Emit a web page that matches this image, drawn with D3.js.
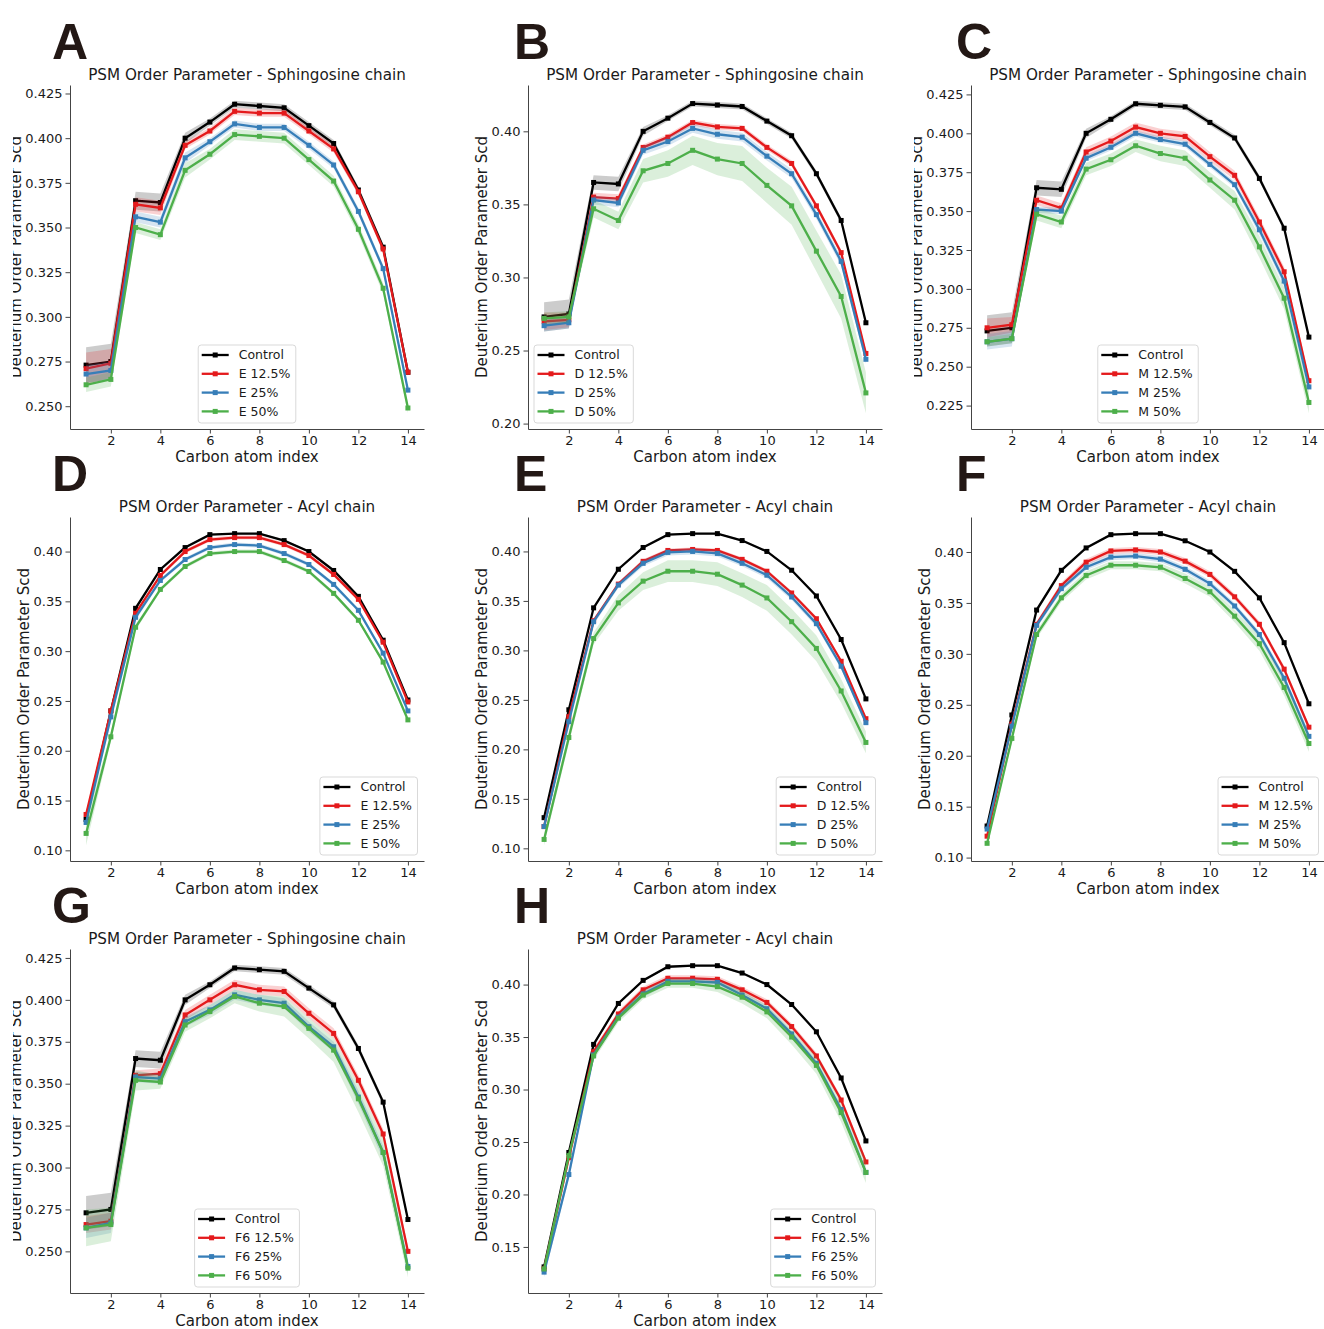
<!DOCTYPE html>
<html>
<head>
<meta charset="utf-8">
<script src="https://cdn.jsdelivr.net/npm/d3@7"></script>
<style>
body { margin: 0; background: #fff; }
text { font-family: "DejaVu Sans", sans-serif; fill: #1a1a1a; }
.letter { font-family: "Liberation Sans", Arial, sans-serif; font-weight: bold; fill: #231815; }
</style>
</head>
<body>
<svg id="fig" width="1324" height="1329"></svg>
<script>
'use strict';

// carbon atom index (x categories)
var carbons = [1, 2, 3, 4, 5, 6, 7, 8, 9, 10, 11, 12, 13, 14];
var xTicks = [2, 4, 6, 8, 10, 12, 14];

// sphingosine chain
var sphControl     = [0.273, 0.275, 0.365, 0.364, 0.400, 0.409, 0.419, 0.418, 0.417, 0.407, 0.397, 0.371, 0.339, 0.269];
var sphControlBand = [0.010, 0.010, 0.005, 0.005, 0.003, 0.002, 0.002, 0.002, 0.002, 0.002, 0.002, 0.002, 0.002, 0.002];

var sphE12     = [0.271, 0.274, 0.363, 0.361, 0.396, 0.404, 0.415, 0.414, 0.414, 0.404, 0.394, 0.370, 0.338, 0.269];
var sphE12Band = [0.009, 0.008, 0.004, 0.004, 0.002, 0.002, 0.002, 0.002, 0.002, 0.002, 0.002, 0.002, 0.002, 0.002];
var sphE25     = [0.268, 0.270, 0.356, 0.353, 0.389, 0.398, 0.408, 0.406, 0.406, 0.396, 0.385, 0.359, 0.327, 0.259];
var sphE25Band = [0.005, 0.005, 0.003, 0.003, 0.003, 0.002, 0.002, 0.002, 0.002, 0.002, 0.002, 0.002, 0.002, 0.002];
var sphE50     = [0.262, 0.265, 0.350, 0.346, 0.382, 0.391, 0.402, 0.401, 0.400, 0.388, 0.376, 0.349, 0.316, 0.249];
var sphE50Band = [0.004, 0.004, 0.003, 0.003, 0.004, 0.003, 0.003, 0.003, 0.003, 0.003, 0.003, 0.003, 0.003, 0.003];

var sphD12     = [0.270, 0.271, 0.355, 0.354, 0.389, 0.396, 0.406, 0.403, 0.402, 0.389, 0.378, 0.349, 0.317, 0.248];
var sphD12Band = [0.006, 0.005, 0.003, 0.003, 0.002, 0.002, 0.002, 0.002, 0.002, 0.002, 0.002, 0.002, 0.002, 0.002];
var sphD25     = [0.267, 0.269, 0.353, 0.351, 0.387, 0.393, 0.402, 0.398, 0.396, 0.383, 0.371, 0.343, 0.311, 0.244];
var sphD25Band = [0.004, 0.004, 0.003, 0.003, 0.003, 0.003, 0.003, 0.003, 0.003, 0.003, 0.003, 0.003, 0.003, 0.003];
var sphD50     = [0.272, 0.273, 0.347, 0.339, 0.373, 0.378, 0.387, 0.381, 0.378, 0.363, 0.349, 0.318, 0.287, 0.221];
var sphD50Band = [0.004, 0.004, 0.006, 0.006, 0.008, 0.009, 0.010, 0.011, 0.012, 0.012, 0.013, 0.014, 0.015, 0.014];

var sphM12     = [0.275, 0.277, 0.357, 0.352, 0.388, 0.395, 0.404, 0.400, 0.398, 0.385, 0.373, 0.343, 0.311, 0.241];
var sphM12Band = [0.006, 0.005, 0.003, 0.003, 0.003, 0.003, 0.003, 0.003, 0.003, 0.003, 0.003, 0.003, 0.003, 0.003];
var sphM25     = [0.266, 0.268, 0.351, 0.350, 0.384, 0.391, 0.400, 0.396, 0.393, 0.380, 0.367, 0.338, 0.305, 0.237];
var sphM25Band = [0.005, 0.005, 0.002, 0.002, 0.002, 0.002, 0.002, 0.002, 0.002, 0.002, 0.002, 0.003, 0.003, 0.003];
var sphM50     = [0.266, 0.268, 0.348, 0.343, 0.377, 0.383, 0.392, 0.387, 0.384, 0.370, 0.357, 0.327, 0.294, 0.227];
var sphM50Band = [0.003, 0.003, 0.004, 0.004, 0.004, 0.004, 0.004, 0.005, 0.005, 0.005, 0.006, 0.007, 0.007, 0.007];

var sphF12     = [0.266, 0.268, 0.355, 0.356, 0.391, 0.400, 0.409, 0.406, 0.405, 0.392, 0.380, 0.352, 0.320, 0.250];
var sphF12Band = [0.005, 0.005, 0.003, 0.003, 0.003, 0.003, 0.003, 0.003, 0.003, 0.003, 0.003, 0.003, 0.003, 0.003];
var sphF25     = [0.264, 0.267, 0.354, 0.353, 0.387, 0.394, 0.403, 0.400, 0.398, 0.384, 0.372, 0.342, 0.309, 0.241];
var sphF25Band = [0.006, 0.006, 0.003, 0.003, 0.003, 0.003, 0.003, 0.003, 0.003, 0.003, 0.003, 0.004, 0.004, 0.004];
var sphF50     = [0.264, 0.266, 0.352, 0.351, 0.385, 0.393, 0.402, 0.398, 0.396, 0.383, 0.370, 0.341, 0.309, 0.240];
var sphF50Band = [0.011, 0.010, 0.006, 0.004, 0.004, 0.004, 0.004, 0.005, 0.006, 0.006, 0.007, 0.008, 0.008, 0.0055];

// acyl chain
var acylControl     = [0.131, 0.240, 0.343, 0.382, 0.404, 0.417, 0.418, 0.418, 0.411, 0.400, 0.381, 0.355, 0.311, 0.251];
var acylControlBand = [0.002, 0.002, 0.002, 0.001, 0.001, 0.001, 0.001, 0.001, 0.001, 0.001, 0.001, 0.001, 0.001, 0.001];

var acylE12     = [0.136, 0.240, 0.338, 0.376, 0.400, 0.412, 0.414, 0.414, 0.407, 0.396, 0.377, 0.352, 0.309, 0.249];
var acylE12Band = [0.003, 0.003, 0.002, 0.002, 0.002, 0.002, 0.002, 0.002, 0.002, 0.002, 0.002, 0.002, 0.002, 0.002];
var acylE25     = [0.128, 0.234, 0.334, 0.371, 0.392, 0.404, 0.407, 0.406, 0.398, 0.387, 0.367, 0.341, 0.298, 0.240];
var acylE25Band = [0.004, 0.003, 0.003, 0.002, 0.002, 0.002, 0.002, 0.002, 0.002, 0.002, 0.002, 0.002, 0.002, 0.002];
var acylE50     = [0.117, 0.214, 0.324, 0.362, 0.385, 0.398, 0.400, 0.400, 0.391, 0.380, 0.358, 0.331, 0.289, 0.231];
var acylE50Band = [0.012, 0.005, 0.003, 0.002, 0.002, 0.002, 0.002, 0.002, 0.002, 0.002, 0.002, 0.002, 0.002, 0.003];

var acylD12     = [0.122, 0.233, 0.330, 0.367, 0.390, 0.401, 0.402, 0.401, 0.392, 0.380, 0.358, 0.332, 0.289, 0.231];
var acylD12Band = [0.003, 0.003, 0.002, 0.002, 0.002, 0.002, 0.002, 0.002, 0.002, 0.002, 0.002, 0.002, 0.002, 0.002];
var acylD25     = [0.122, 0.228, 0.329, 0.366, 0.388, 0.399, 0.400, 0.398, 0.388, 0.376, 0.354, 0.327, 0.284, 0.227];
var acylD25Band = [0.003, 0.003, 0.003, 0.003, 0.003, 0.003, 0.003, 0.003, 0.003, 0.003, 0.003, 0.003, 0.003, 0.003];
var acylD50     = [0.109, 0.212, 0.312, 0.348, 0.370, 0.380, 0.380, 0.377, 0.366, 0.353, 0.329, 0.302, 0.259, 0.207];
var acylD50Band = [0.006, 0.006, 0.006, 0.008, 0.009, 0.011, 0.011, 0.012, 0.012, 0.013, 0.013, 0.013, 0.012, 0.011];

var acylM12     = [0.121, 0.231, 0.329, 0.367, 0.390, 0.401, 0.402, 0.400, 0.391, 0.378, 0.356, 0.329, 0.285, 0.228];
var acylM12Band = [0.003, 0.003, 0.003, 0.003, 0.003, 0.003, 0.003, 0.003, 0.003, 0.003, 0.003, 0.003, 0.003, 0.003];
var acylM25     = [0.128, 0.229, 0.328, 0.364, 0.385, 0.395, 0.396, 0.393, 0.383, 0.369, 0.347, 0.319, 0.276, 0.219];
var acylM25Band = [0.003, 0.003, 0.003, 0.003, 0.003, 0.003, 0.003, 0.003, 0.003, 0.003, 0.003, 0.003, 0.004, 0.004];
var acylM50     = [0.114, 0.217, 0.319, 0.355, 0.377, 0.387, 0.387, 0.385, 0.374, 0.361, 0.337, 0.310, 0.267, 0.212];
var acylM50Band = [0.002, 0.004, 0.004, 0.004, 0.004, 0.004, 0.004, 0.004, 0.005, 0.005, 0.006, 0.007, 0.008, 0.008];

var acylF12     = [0.129, 0.235, 0.336, 0.372, 0.395, 0.406, 0.406, 0.405, 0.395, 0.383, 0.360, 0.332, 0.290, 0.231];
var acylF12Band = [0.003, 0.003, 0.003, 0.003, 0.003, 0.003, 0.003, 0.003, 0.003, 0.003, 0.003, 0.003, 0.003, 0.003];
var acylF25     = [0.126, 0.219, 0.333, 0.369, 0.391, 0.403, 0.403, 0.402, 0.390, 0.377, 0.353, 0.325, 0.281, 0.221];
var acylF25Band = [0.005, 0.004, 0.003, 0.003, 0.003, 0.003, 0.003, 0.003, 0.003, 0.003, 0.003, 0.003, 0.003, 0.003];
var acylF50     = [0.129, 0.237, 0.332, 0.368, 0.390, 0.401, 0.401, 0.398, 0.388, 0.374, 0.350, 0.323, 0.278, 0.221];
var acylF50Band = [0.003, 0.004, 0.004, 0.004, 0.004, 0.004, 0.004, 0.005, 0.006, 0.006, 0.007, 0.008, 0.009, 0.010];

var titleSph = 'PSM Order Parameter - Sphingosine chain';
var titleAcyl = 'PSM Order Parameter - Acyl chain';
var yLabel = 'Deuterium Order Parameter Scd';
var xLabel = 'Carbon atom index';
var colors = ['#000000', '#e41a1c', '#377eb8', '#4daf4a'];

var panels = [
	{letter: 'A', title: titleSph, names: ['Control', 'E 12.5%', 'E 25%', 'E 50%'],
		vals: [sphControl, sphE12, sphE25, sphE50], bands: [sphControlBand, sphE12Band, sphE25Band, sphE50Band],
		legend: 'lc', step: 0.025, fmt: '.3f', clip: true},
	{letter: 'B', title: titleSph, names: ['Control', 'D 12.5%', 'D 25%', 'D 50%'],
		vals: [sphControl, sphD12, sphD25, sphD50], bands: [sphControlBand, sphD12Band, sphD25Band, sphD50Band],
		legend: 'll', step: 0.05, fmt: '.2f', clip: false},
	{letter: 'C', title: titleSph, names: ['Control', 'M 12.5%', 'M 25%', 'M 50%'],
		vals: [sphControl, sphM12, sphM25, sphM50], bands: [sphControlBand, sphM12Band, sphM25Band, sphM50Band],
		legend: 'lc', step: 0.025, fmt: '.3f', clip: true},
	{letter: 'D', title: titleAcyl, names: ['Control', 'E 12.5%', 'E 25%', 'E 50%'],
		vals: [acylControl, acylE12, acylE25, acylE50], bands: [acylControlBand, acylE12Band, acylE25Band, acylE50Band],
		legend: 'lr', step: 0.05, fmt: '.2f', clip: false},
	{letter: 'E', title: titleAcyl, names: ['Control', 'D 12.5%', 'D 25%', 'D 50%'],
		vals: [acylControl, acylD12, acylD25, acylD50], bands: [acylControlBand, acylD12Band, acylD25Band, acylD50Band],
		legend: 'lr', step: 0.05, fmt: '.2f', clip: false},
	{letter: 'F', title: titleAcyl, names: ['Control', 'M 12.5%', 'M 25%', 'M 50%'],
		vals: [acylControl, acylM12, acylM25, acylM50], bands: [acylControlBand, acylM12Band, acylM25Band, acylM50Band],
		legend: 'lr', step: 0.05, fmt: '.2f', clip: false},
	{letter: 'G', title: titleSph, names: ['Control', 'F6 12.5%', 'F6 25%', 'F6 50%'],
		vals: [sphControl, sphF12, sphF25, sphF50], bands: [sphControlBand, sphF12Band, sphF25Band, sphF50Band],
		legend: 'lc', step: 0.025, fmt: '.3f', clip: true},
	{letter: 'H', title: titleAcyl, names: ['Control', 'F6 12.5%', 'F6 25%', 'F6 50%'],
		vals: [acylControl, acylF12, acylF25, acylF50], bands: [acylControlBand, acylF12Band, acylF25Band, acylF50Band],
		legend: 'lr', step: 0.05, fmt: '.2f', clip: false}
];

var svg = d3.select('#fig');
svg.append('rect').attr('width', 1324).attr('height', 1329).attr('fill', '#fff');

var colLeft = [70, 528, 971];
var rowTop = [85, 517, 949];
var letterX = [52, 514, 956];
var letterY = [58.5, 490.5, 922.5];
var plotW = 354;
var plotH = 344;

var defs = svg.append('defs');

panels.forEach(function (p, idx) {
	var col = idx % 3;
	var row = Math.floor(idx / 3);

	svg.append('text')
		.attr('class', 'letter')
		.attr('x', letterX[col])
		.attr('y', letterY[row])
		.attr('font-size', 50)
		.text(p.letter);

	var g = svg.append('g')
		.attr('transform', 'translate(' + colLeft[col] + ',' + rowTop[row] + ')');

	// matplotlib style 5% margins
	var xe = d3.extent(carbons);
	var xpad = (xe[1] - xe[0]) * 0.05;
	var x = d3.scaleLinear().domain([xe[0] - xpad, xe[1] + xpad]).range([0, plotW]);

	var lo = d3.min(p.vals, function (v, s) {
		return d3.min(v, function (d, i) { return d - p.bands[s][i]; });
	});
	var hi = d3.max(p.vals, function (v, s) {
		return d3.max(v, function (d, i) { return d + p.bands[s][i]; });
	});
	var ypad = (hi - lo) * 0.05;
	var y = d3.scaleLinear().domain([lo - ypad, hi + ypad]).range([plotH, 0]);
	var yd = y.domain();
	var yTicks = d3.range(Math.ceil(yd[0] / p.step - 1e-6), Math.floor(yd[1] / p.step + 1e-6) + 1)
		.map(function (k) { return k * p.step; });

	// bands + lines, one series after another
	p.vals.forEach(function (v, s) {
		var pts = carbons.map(function (c, i) { return {c: c, v: v[i], b: p.bands[s][i]}; });
		var area = d3.area()
			.x(function (d) { return x(d.c); })
			.y0(function (d) { return y(d.v - d.b); })
			.y1(function (d) { return y(d.v + d.b); });
		var line = d3.line()
			.x(function (d) { return x(d.c); })
			.y(function (d) { return y(d.v); });

		g.append('path')
			.datum(pts)
			.attr('d', area)
			.attr('fill', colors[s])
			.attr('fill-opacity', 0.2);

		g.append('path')
			.datum(pts)
			.attr('d', line)
			.attr('fill', 'none')
			.attr('stroke', colors[s])
			.attr('stroke-width', 2.3);

		g.selectAll(null)
			.data(pts)
			.enter()
			.append('rect')
			.attr('x', function (d) { return x(d.c) - 2.5; })
			.attr('y', function (d) { return y(d.v) - 2.5; })
			.attr('width', 5)
			.attr('height', 5)
			.attr('fill', colors[s]);
	});

	// axes
	var xAxis = g.append('g')
		.attr('transform', 'translate(0,' + plotH + ')')
		.call(d3.axisBottom(x).tickValues(xTicks).tickSize(4.5).tickSizeOuter(0).tickPadding(2));
	var yAxis = g.append('g')
		.call(d3.axisLeft(y).tickValues(yTicks).tickFormat(d3.format(p.fmt)).tickSize(4.5).tickSizeOuter(0).tickPadding(3));
	[xAxis, yAxis].forEach(function (a) {
		a.selectAll('path, line').attr('stroke', '#444').attr('stroke-width', 1);
		a.selectAll('text').attr('font-size', 13).attr('font-family', '"DejaVu Sans", sans-serif').attr('fill', '#1a1a1a');
	});

	g.append('text')
		.attr('x', plotW / 2)
		.attr('y', -5.5)
		.attr('text-anchor', 'middle')
		.attr('font-size', 15.2)
		.text(p.title);

	g.append('text')
		.attr('x', plotW / 2)
		.attr('y', plotH + 33)
		.attr('text-anchor', 'middle')
		.attr('font-size', 15)
		.text(xLabel);

	// y label left of widest tick label
	var tickLeft = d3.min(yAxis.selectAll('text').nodes(), function (n) {
		return n.getBBox().x;
	});
	var yl = g.append('g');
	if (p.clip) {
		// the source panels were cropped through the y label
		var cid = 'clip' + p.letter;
		defs.append('clipPath').attr('id', cid)
			.append('rect')
			.attr('x', colLeft[col] - 57)
			.attr('y', 0)
			.attr('width', 200)
			.attr('height', 1329);
		yl = svg.append('g').attr('clip-path', 'url(#' + cid + ')')
			.append('g')
			.attr('transform', 'translate(' + colLeft[col] + ',' + rowTop[row] + ')');
	}
	yl.append('text')
		.attr('transform', 'translate(' + (tickLeft - 4.5) + ',' + (plotH / 2) + ') rotate(-90)')
		.attr('text-anchor', 'middle')
		.attr('font-size', 15)
		.text(yLabel);

	// legend
	var rowGap = 18.8;
	var leg = g.append('g');
	var box = leg.append('rect')
		.attr('rx', 3)
		.attr('fill', '#fff')
		.attr('fill-opacity', 0.8)
		.attr('stroke', '#d9d9d9')
		.attr('stroke-width', 1);
	var maxW = 0;
	p.names.forEach(function (nm, s) {
		var cy = 10 + s * rowGap;
		leg.append('line')
			.attr('x1', 3.5).attr('x2', 30.5)
			.attr('y1', cy).attr('y2', cy)
			.attr('stroke', colors[s])
			.attr('stroke-width', 2.3);
		leg.append('rect')
			.attr('x', 17 - 2.5).attr('y', cy - 2.5)
			.attr('width', 5).attr('height', 5)
			.attr('fill', colors[s]);
		var t = leg.append('text')
			.attr('x', 40.5)
			.attr('y', cy)
			.attr('dy', '0.35em')
			.attr('font-size', 12.5)
			.text(nm);
		maxW = Math.max(maxW, t.node().getComputedTextLength());
	});
	var bw = 40.5 + maxW + 5.5;
	var bh = 78;
	box.attr('width', bw).attr('height', bh);
	var lx;
	if (p.legend === 'lc') {
		lx = plotW / 2 - bw / 2;
	} else if (p.legend === 'll') {
		lx = 6;
	} else {
		lx = plotW - 6.5 - bw;
	}
	leg.attr('transform', 'translate(' + lx + ',' + (plotH - 6 - bh) + ')');
});
</script>
</body>
</html>
